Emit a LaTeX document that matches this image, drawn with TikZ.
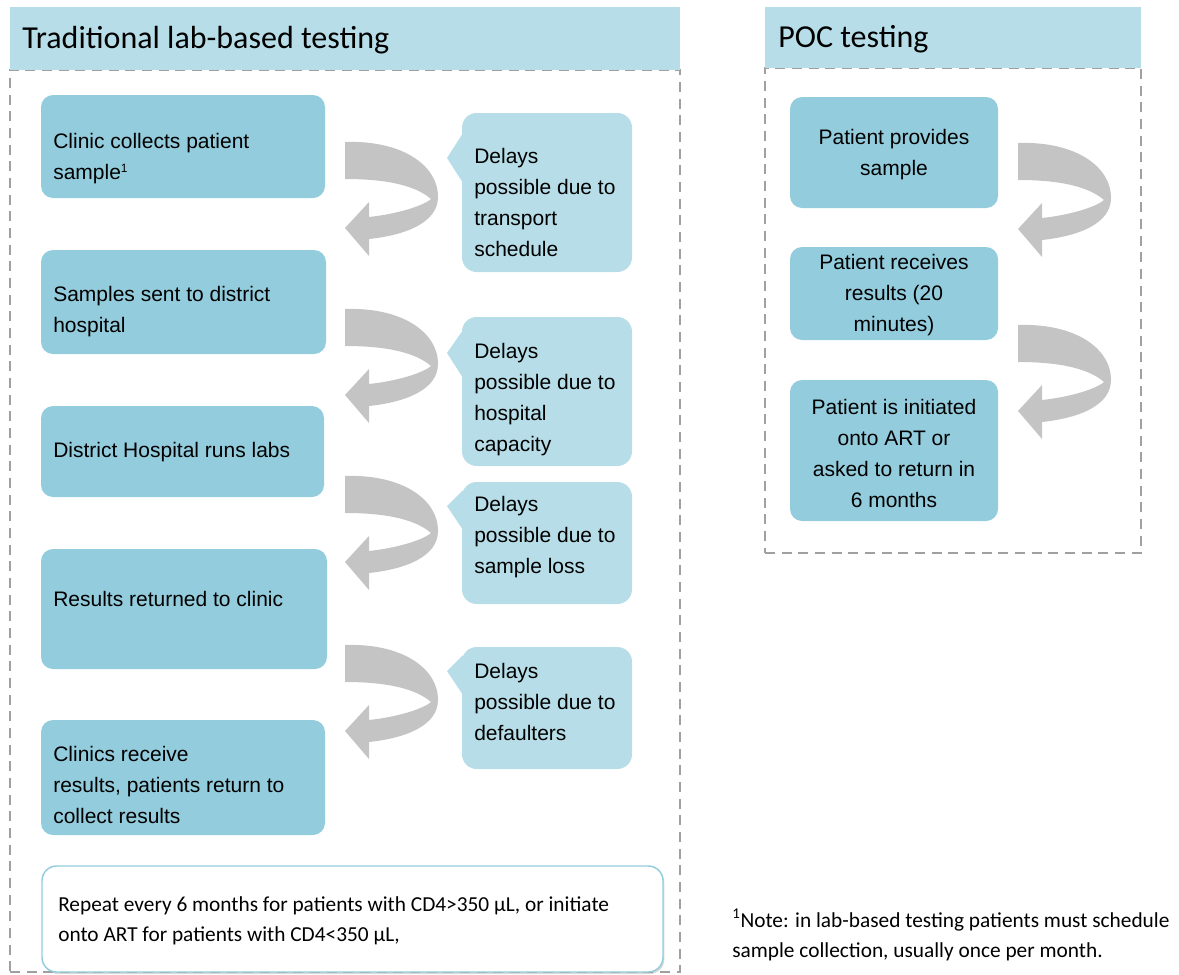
\documentclass[tikz,border=0pt]{standalone}
\usepackage{fontspec}
\setmainfont{Liberation Sans}
\newfontfamily\calfont{Carlito}
\usetikzlibrary{fit,shadows}
\definecolor{darkbox}{HTML}{93CDDD}
\definecolor{lightbox}{HTML}{B7DEE8}
\definecolor{framegray}{HTML}{A0A0A0}
\definecolor{arrowgray}{HTML}{C4C4C4}
\begin{document}
\begin{tikzpicture}[x=0.75pt,y=-0.75pt,
  hdr/.style={fill=lightbox, inner sep=0pt, outer sep=0pt},
  hdrtxt/.style={font=\calfont\fontsize{24}{28}\selectfont, anchor=west, inner sep=0pt},
  frm/.style={draw=framegray, line width=1.9pt, dash pattern=on 7.5pt off 5pt, inner sep=0pt},
  stepbox/.style={fill=darkbox, rounded corners=9pt, inner sep=0pt, outer sep=0pt},
  callout/.style={fill=lightbox, rounded corners=11pt, inner sep=0pt, outer sep=0pt},
  txt/.style={font=\fontsize{15.75}{23.25}\selectfont, inner sep=0pt},
  ltxt/.style={txt, align=left, anchor=west},
  ctxt/.style={txt, align=center},
  notetxt/.style={font=\calfont\fontsize{16}{22.5}\selectfont, align=left, anchor=west, inner sep=0pt},
  carrow/.pic={
    \fill[arrowgray] (0,0) .. controls (55,-2) and (93,22) .. (93,55)
      .. controls (93,80) and (62,93) .. (24,97) -- (24,114) -- (0,86) -- (24,60) -- (24,75)
      .. controls (52,72) and (78,64) .. (86,57)
      .. controls (70,43) and (40,37) .. (0,37) -- cycle;
  }
]
\useasboundingbox (0,0) rectangle (1179,975);

% ---------- left panel ----------
\node[frm, fit={(10,70) (680,972)}] (F1) {};
\node[hdr, fit={(10,7) (680,70)}] (H1) {};
\node[hdrtxt] (H1t) at (22,40) {Traditional lab-based testing};

\node[stepbox, fit={(41,95) (325,198)}] (L1) {};
\node[ltxt] (L1t) at (53,159) {Clinic collects patient\\sample\textsuperscript{\fontsize{9}{9}\selectfont 1}};
\node[stepbox, fit={(41,250) (326,354)}] (L2) {};
\node[ltxt] (L2t) at (53,312) {Samples sent to district\\hospital};
\node[stepbox, fit={(41,406) (324,497)}] (L3) {};
\node[ltxt] (L3t) at (53,452) {District Hospital runs labs};
\node[stepbox, fit={(41,549) (327,669)}] (L4) {};
\node[ltxt] (L4t) at (53,599) {Results returned to clinic};
\node[stepbox, fit={(41,720) (325,835)}] (L5) {};
\node[ltxt] (L5t) at (53,785) {Clinics receive\\results, patients return to\\collect results};

% callouts
\node[callout, fit={(462,113) (632,272)}] (C1) {};
\fill[lightbox] (463,133) -- (447,158) -- (463,183) -- cycle;
\node[ltxt] (C1t) at (474,202) {Delays\\possible due to\\transport\\schedule};
\node[callout, fit={(462,317) (632,466)}] (C2) {};
\fill[lightbox] (463,330) -- (447,353) -- (463,378) -- cycle;
\node[ltxt] (C2t) at (474,399.5) {Delays\\possible due to\\hospital\\capacity};
\node[callout, fit={(462,482) (632,604)}] (C3) {};
\fill[lightbox] (463,490) -- (447,506) -- (463,530) -- cycle;
\node[ltxt] (C3t) at (474,537) {Delays\\possible due to\\sample loss};
\node[callout, fit={(462,647) (632,769)}] (C4) {};
\fill[lightbox] (463,655) -- (447,671) -- (463,695) -- cycle;
\node[ltxt] (C4t) at (474,702) {Delays\\possible due to\\defaulters};

% curved arrows
\pic at (345,142) {carrow};
\pic at (345,309) {carrow};
\pic at (345,476) {carrow};
\pic at (345,645) {carrow};

% bottom box
\node[fit={(42,866) (663,972)}, fill=white, draw=darkbox, line width=1.1pt, rounded corners=11pt, inner sep=0pt,
      drop shadow={opacity=0.3, shadow xshift=1pt, shadow yshift=-1.5pt}] (B) {};
\node[notetxt] (Bt) at (58,921) {Repeat every 6 months for patients with CD4>350 μL, or initiate\\onto ART for patients with CD4<350 μL,};

% ---------- right panel ----------
\node[frm, fit={(765,68) (1141,553)}] (F2) {};
\node[hdr, fit={(765,7) (1141,68)}] (H2) {};
\node[hdrtxt] (H2t) at (778,39) {POC testing};

\node[stepbox, fit={(790,97) (998,208)}] (R1) {};
\node[ctxt] (R1t) at (894,154.5) {Patient provides\\sample};
\node[stepbox, fit={(790,247) (998,340)}] (R2) {};
\node[ctxt] (R2t) at (894,295.5) {Patient receives\\results (20\\minutes)};
\node[stepbox, fit={(790,380) (998,521)}] (R3) {};
\node[ctxt] (R3t) at (894,453) {Patient is initiated\\onto ART or\\asked to return in\\6 months};

\pic at (1018,143) {carrow};
\pic at (1018,325) {carrow};

% footnote
\node[notetxt] (N) at (732,935) {\textsuperscript{1}Note: in lab-based testing patients must schedule\\sample collection, usually once per month.};
\end{tikzpicture}
\end{document}
